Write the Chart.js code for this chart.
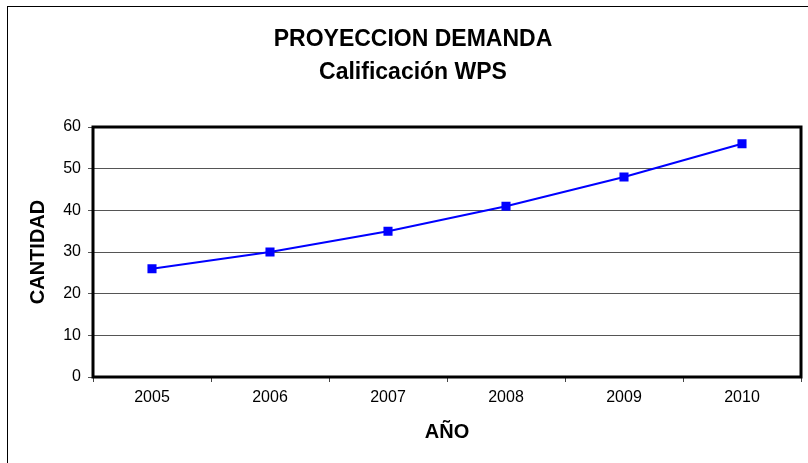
<!DOCTYPE html>
<html>
<head>
<meta charset="utf-8">
<script src="https://cdn.jsdelivr.net/npm/chart.js@4"></script>
<style>
  html, body { margin: 0; padding: 0; background: #fff; }
  #wrap { width: 808px; height: 463px; position: relative; }
</style>
</head>
<body>
<div id="wrap"><canvas id="demandChart" width="808" height="463"></canvas></div>
<script>
// Proyeccion demanda
const years = ['2005', '2006', '2007', '2008', '2009', '2010'];
const cantidad = [26, 30, 35, 41, 48, 56];
const yTicks = [0, 10, 20, 30, 40, 50, 60];
const titleLines = ['PROYECCION DEMANDA', 'Calificación WPS'];

const FONT = 'Arial, "Liberation Sans", sans-serif';

// outer frame of the chart object (cut off at right and bottom)
const frame = {
    id: 'frame',
    beforeDraw(chart) {
        const ctx = chart.ctx;
        ctx.save();
        ctx.fillStyle = '#fff';
        ctx.fillRect(0, 0, chart.width, chart.height);
        ctx.strokeStyle = '#000';
        ctx.lineWidth = 1;
        ctx.strokeRect(7.5, 6.5, 900, 900);
        ctx.restore();
    }
};

// thick border round the plot area
const plotBorder = {
    id: 'plotBorder',
    beforeDatasetsDraw(chart) {
        const a = chart.chartArea;
        const ctx = chart.ctx;
        ctx.save();
        ctx.strokeStyle = '#000';
        ctx.lineWidth = 3;
        ctx.strokeRect(a.left, a.top, a.right - a.left, a.bottom - a.top);
        ctx.restore();
    }
};

new Chart(document.getElementById('demandChart'), {
    type: 'line',
    data: {
        labels: years,
        datasets: [{
            data: cantidad,
            borderColor: '#0000ff',
            backgroundColor: '#0000ff',
            borderWidth: 2,
            pointStyle: 'rect',
            pointRadius: 5,
            pointBackgroundColor: '#0000ff',
            pointBorderColor: '#0000ff',
            tension: 0,
            fill: false
        }]
    },
    options: {
        responsive: false,
        animation: false,
        layout: { padding: { left: 22, right: 4, top: 0, bottom: 0 } },
        plugins: {
            legend: { display: false },
            tooltip: { enabled: false },
            title: {
                display: true,
                text: titleLines,
                color: '#000',
                font: { family: FONT, size: 23, weight: 'bold', lineHeight: '33px' },
                padding: { top: 23.5, bottom: 37.5 }
            }
        },
        scales: {
            x: {
                offset: true,
                grid: { offset: true, drawOnChartArea: false, drawTicks: true, tickLength: 5, color: '#444' },
                border: { display: false },
                ticks: { color: '#000', font: { family: FONT, size: 16 }, padding: 6, maxRotation: 0 },
                title: {
                    display: true,
                    text: 'AÑO',
                    color: '#000',
                    font: { family: FONT, size: 20, weight: 'bold' },
                    padding: { top: 0, bottom: 19 }
                },
                afterFit(scale) { scale.height = 86; }
            },
            y: {
                min: 0,
                max: 60,
                afterBuildTicks(scale) { scale.ticks = yTicks.map(v => ({ value: v })); },
                grid: { color: '#555', lineWidth: 1, drawTicks: true, tickLength: 5 },
                border: { display: false },
                ticks: { color: '#000', font: { family: FONT, size: 16 }, padding: 7 },
                title: {
                    display: true,
                    text: 'CANTIDAD',
                    color: '#000',
                    font: { family: FONT, size: 20, weight: 'bold' },
                    padding: { top: 4, bottom: 0 }
                },
                afterFit(scale) { scale.width = 71; }
            }
        }
    },
    plugins: [frame, plotBorder]
});
</script>
</body>
</html>
